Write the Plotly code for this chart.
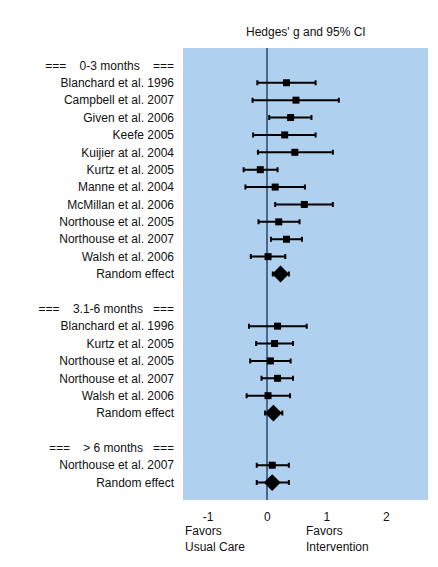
import plotly.graph_objects as go

NB = "\u00a0"

# Group headers
group_headers = [
    "===" + NB * 4 + "0-3 months" + NB * 4 + "===",
    "===" + NB * 4 + "3.1-6 months" + NB * 3 + "===",
    "===" + NB * 4 + ">" + NB + "6 months" + NB * 3 + "===",
]

# Group 1: 0-3 months
g1_studies = ["Blanchard et al. 1996", "Campbell et al. 2007", "Given et al. 2006", "Keefe 2005",
              "Kuijier at al. 2004", "Kurtz et al. 2005", "Manne et al. 2004", "McMillan et al. 2006",
              "Northouse et al. 2005", "Northouse et al. 2007", "Walsh et al. 2006"]
g1_g = [0.32, 0.48, 0.39, 0.29, 0.46, -0.12, 0.13, 0.62, 0.19, 0.32, 0.01]
g1_lo = [-0.17, -0.25, 0.03, -0.24, -0.16, -0.40, -0.37, 0.13, -0.15, 0.06, -0.28]
g1_hi = [0.81, 1.20, 0.74, 0.81, 1.10, 0.17, 0.63, 1.10, 0.54, 0.58, 0.30]
g1_re = [0.22, 0.09, 0.36]  # effect, lower, upper

# Group 2: 3.1-6 months
g2_studies = ["Blanchard et al. 1996", "Kurtz et al. 2005", "Northouse et al. 2005",
              "Northouse et al. 2007", "Walsh et al. 2006"]
g2_g = [0.17, 0.12, 0.05, 0.17, 0.01]
g2_lo = [-0.31, -0.19, -0.29, -0.10, -0.35]
g2_hi = [0.66, 0.43, 0.39, 0.43, 0.38]
g2_re = [0.10, -0.04, 0.25]

# Group 3: > 6 months
g3_studies = ["Northouse et al. 2007"]
g3_g = [0.08]
g3_lo = [-0.18]
g3_hi = [0.36]
g3_re = [0.08, -0.18, 0.36]

x_tick_vals = [-1, 0, 1, 2]
x_tick_text = ["-1", "0", "1", "2"]

groups = [
    (g1_studies, g1_g, g1_lo, g1_hi, g1_re),
    (g2_studies, g2_g, g2_lo, g2_hi, g2_re),
    (g3_studies, g3_g, g3_lo, g3_hi, g3_re),
]

tickvals, ticktext = [], []
sq_y, sq_x, sq_lo, sq_hi = [], [], [], []
re_y, re_x, re_lo, re_hi = [], [], [], []
row = 1
for gi, (names, gs, los, his, re) in enumerate(groups):
    tickvals.append(row); ticktext.append(group_headers[gi]); row += 1
    for n, g, lo, hi in zip(names, gs, los, his):
        tickvals.append(row); ticktext.append(n)
        sq_y.append(row); sq_x.append(g); sq_lo.append(g - lo); sq_hi.append(hi - g)
        row += 1
    tickvals.append(row); ticktext.append("Random effect")
    re_y.append(row); re_x.append(re[0]); re_lo.append(re[0] - re[1]); re_hi.append(re[2] - re[0])
    row += 2
n_rows = row - 2

fig = go.Figure()
fig.add_trace(go.Scatter(
    x=sq_x, y=sq_y, mode="markers",
    marker=dict(symbol="square", size=7, color="black"),
    error_x=dict(type="data", symmetric=False, array=sq_hi, arrayminus=sq_lo,
                 color="black", thickness=2, width=2.5),
    showlegend=False, hoverinfo="skip"))
fig.add_trace(go.Scatter(
    x=re_x, y=re_y, mode="markers",
    marker=dict(symbol="diamond", size=13, color="black"),
    error_x=dict(type="data", symmetric=False, array=re_hi, arrayminus=re_lo,
                 color="black", thickness=2, width=2.5),
    showlegend=False, hoverinfo="skip"))

font = dict(family="Liberation Sans, Arial, sans-serif", size=12, color="#111111")

def note(text, x):
    return dict(text=text, xref="x", yref="paper", x=x, y=0, xanchor="left",
                yanchor="middle", yshift=-39, align="left", showarrow=False, font=font)

fig.update_layout(
    width=438, height=567,
    margin=dict(l=183, r=10, t=48, b=67),
    paper_bgcolor="white", plot_bgcolor="#AFD0EE",
    font=font,
    xaxis=dict(range=[-1.42, 2.70], tickvals=x_tick_vals, ticktext=x_tick_text,
               showgrid=False, zeroline=True, zerolinecolor="#48698C", zerolinewidth=2,
               showline=False, ticks="", tickfont=font, ticklabelstandoff=8),
    yaxis=dict(range=[n_rows + 1, 0], tickvals=tickvals, ticktext=ticktext,
               showgrid=False, zeroline=False, showline=False, ticks="",
               tickfont=font, ticklabelstandoff=8),
    annotations=[
        dict(text="Hedges' g and 95% CI", xref="paper", yref="paper", x=0.5, y=1,
             yanchor="middle", yshift=16, showarrow=False, font=font),
        note("Favors<br>Usual Care", -1.42),
        note("Favors<br>Intervention", 0.62),
    ],
)

fig.write_html("out.html", config={"displayModeBar": False},
               post_script="document.body.style.margin='0px';")
